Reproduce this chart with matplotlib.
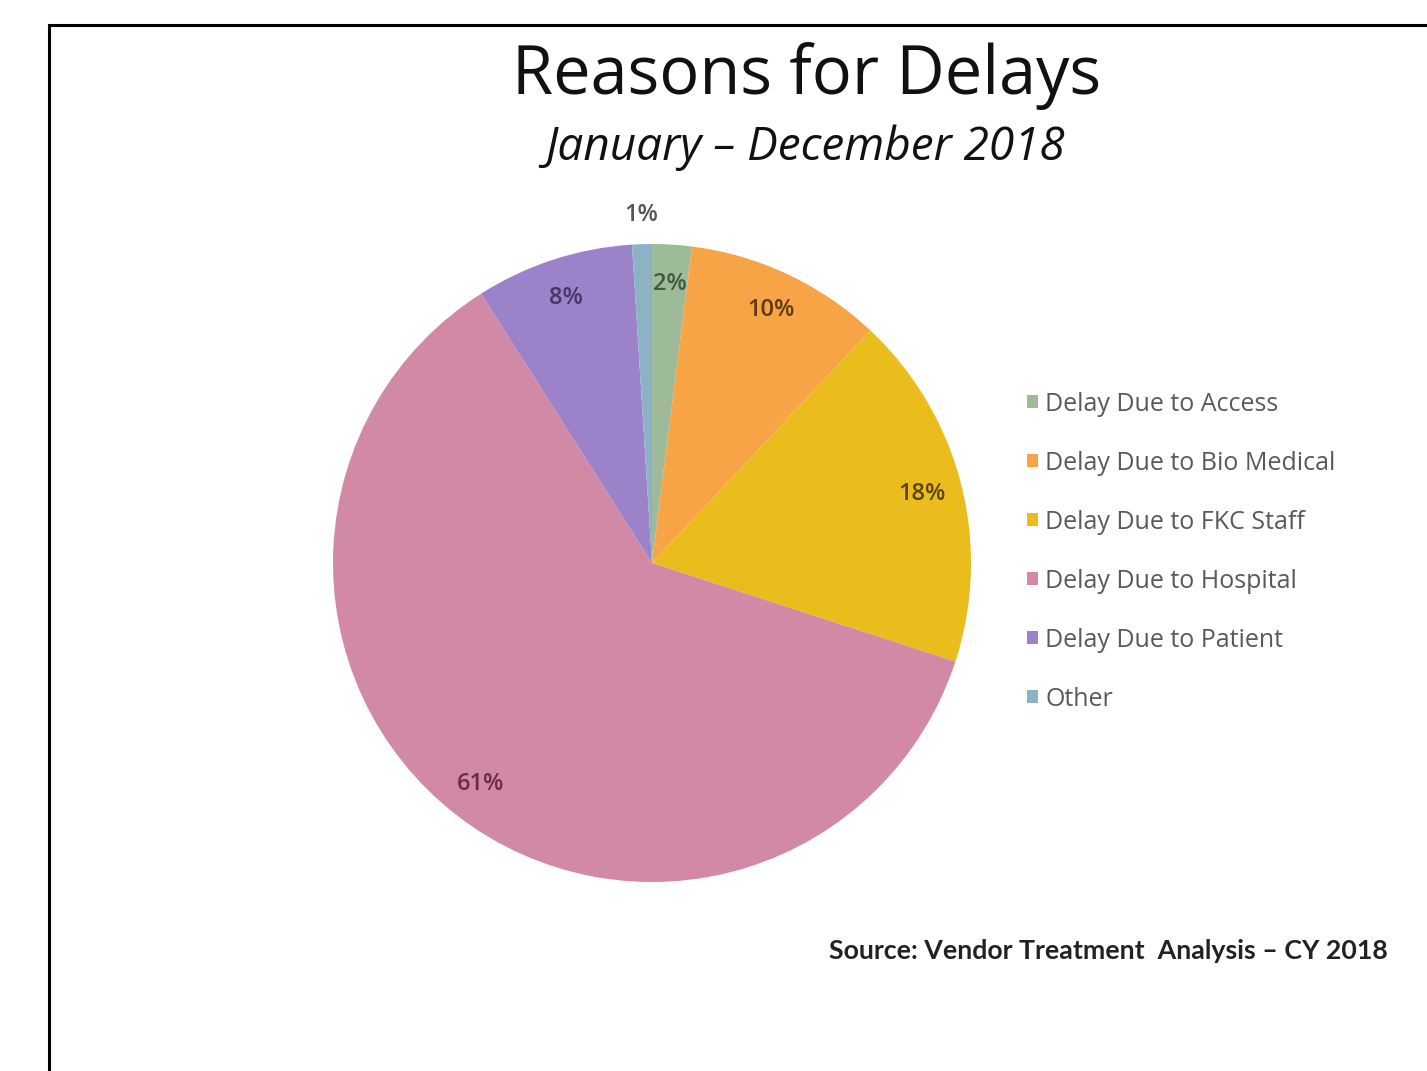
import matplotlib.pyplot as plt
from matplotlib.lines import Line2D
import numpy as np

# data
categories = ["Delay Due to Access", "Delay Due to Bio Medical", "Delay Due to FKC Staff",
              "Delay Due to Hospital", "Delay Due to Patient", "Other"]
shares = [2, 10, 18, 61, 8, 1]

slice_colors = ["#9dbb98", "#f7a447", "#ebbd1c", "#d189a5", "#9c82c8", "#8db2c6"]
label_colors = ["#3f5a3c", "#5e3a10", "#5a4510", "#6a2c4c", "#45356a", "#555555"]

plt.rcParams['font.family'] = ['Open Sans', 'DejaVu Sans']

fig = plt.figure(figsize=(14.27, 10.71), dpi=100)

# frame line top and left
fig.add_artist(Line2D([49/1427, 1.0], [1 - 25/1071] * 2, color="black", lw=2.2))
fig.add_artist(Line2D([49/1427] * 2, [0.0, 1 - 25/1071], color="black", lw=2.2))

# pie axes, centred at (652, 563) px with radius ~319 px
cx, cy, r = 652, 563, 319
ax = fig.add_axes([(cx - r) / 1427, (1071 - cy - r) / 1071, 2 * r / 1427, 2 * r / 1071])

wedges, texts, autotexts = ax.pie(
    shares, colors=slice_colors, startangle=90, counterclock=False,
    autopct=lambda p: f"{p:.0f}%", pctdistance=0.875,
    wedgeprops=dict(linewidth=0),
    textprops=dict(fontsize=17, fontweight="semibold"))
for t, c in zip(autotexts, label_colors):
    t.set_color(c)

# the tiny "Other" slice gets its label outside
w = wedges[-1]
mid = np.deg2rad((w.theta1 + w.theta2) / 2)
autotexts[-1].set_position((1.09 * np.cos(mid), 1.09 * np.sin(mid)))

ax.set_xlim(-1, 1)
ax.set_ylim(-1, 1)
ax.set_aspect("equal")

leg = ax.legend(wedges, categories, loc="center left", bbox_to_anchor=(1.052, 0.518),
                frameon=False, fontsize=18, handlelength=0.45, handleheight=0.45,
                handletextpad=0.3, labelspacing=1.36)
for t in leg.get_texts():
    t.set_color("#595959")

fig.text(807/1427, 1 - 76/1071, "Reasons for Delays", ha="center", va="center",
         fontsize=48, color="#111111")
fig.text(805/1427, 1 - 148/1071, "January \u2013 December 2018", ha="center", va="center",
         fontsize=33, style="italic", color="#111111")
fig.text(1388/1427, 1 - 951/1071, "Source: Vendor Treatment  Analysis \u2013 CY 2018",
         ha="right", va="center", fontsize=19.3, fontweight="bold", color="#222222",
         family=["Lato", "DejaVu Sans"])

fig.savefig("out.png", dpi=100, facecolor="white")
